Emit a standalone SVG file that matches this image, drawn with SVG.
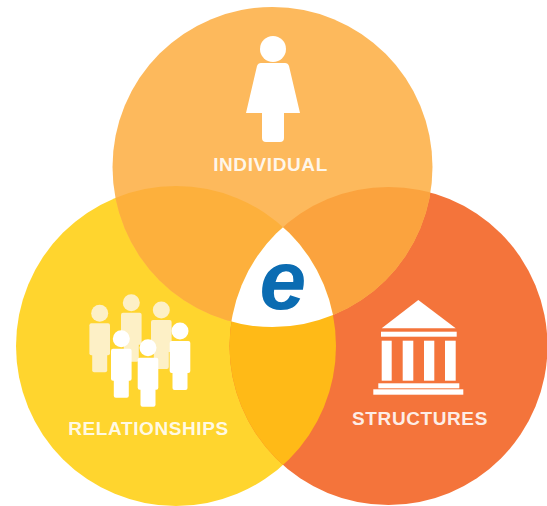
<svg xmlns="http://www.w3.org/2000/svg" xmlns:xlink="http://www.w3.org/1999/xlink" width="547" height="506" viewBox="0 0 547 506">
<style>
.lab{font-family:"Liberation Sans",Arial,sans-serif;font-weight:700;font-size:19px;letter-spacing:.6px;fill:#fff;fill-opacity:.88;text-anchor:middle}
.w{fill:#fff}
.c{fill:#fdf0c6}
</style>
<defs>
<clipPath id="cT"><circle cx="272.500" cy="167" r="160"/></clipPath>
<clipPath id="cL"><circle cx="176" cy="346" r="160"/></clipPath>
<clipPath id="cR"><circle cx="388.500" cy="346" r="159"/></clipPath>
<g id="person">
<circle cx="0" cy="0" r="8.500"/>
<rect x="-10.300" y="10" width="20.600" height="32" rx="2"/>
<rect x="-7.500" y="38" width="15" height="21" rx="2"/>
</g>
</defs>
<rect width="547" height="506" fill="#fff"/>
<g id="circles">
<circle cx="176" cy="346" r="160" fill="#ffd52e"/>
<circle cx="388.500" cy="346" r="159" fill="#f4743b"/>
<circle cx="272.500" cy="167" r="160" fill="#fdb95c"/>
<g clip-path="url(#cT)"><circle cx="176" cy="346" r="160" fill="#fdb03c"/><circle cx="388.500" cy="346" r="159" fill="#fba33e"/></g>
<g clip-path="url(#cL)"><circle cx="388.500" cy="346" r="159" fill="#ffba17"/></g>
<g clip-path="url(#cT)"><g clip-path="url(#cL)"><circle cx="388.500" cy="346" r="159" fill="#fff"/></g></g>
</g>
<g id="center">
<text x="259.500" y="309" font-family="'Liberation Sans',Arial,sans-serif" font-weight="700" font-style="italic" font-size="84" fill="#0b6cb2">e</text>
</g>
<g id="individual">
<circle class="w" cx="273" cy="49" r="13"/>
<path class="w" d="M261 63H285Q288 63 289 66L300 113H284V138Q284 142 280 142H266Q262 142 262 138V113H246L257 66Q258 63 261 63Z"/>
<text class="lab" x="270.500" y="171">INDIVIDUAL</text>
</g>
<g id="relationships">
<use xlink:href="#person" href="#person" class="c" x="99.700" y="313.300"/>
<use xlink:href="#person" href="#person" class="c" x="131.300" y="302.700"/>
<use xlink:href="#person" href="#person" class="c" x="161.300" y="310"/>
<use xlink:href="#person" href="#person" class="w" x="121.300" y="338.700"/>
<use xlink:href="#person" href="#person" class="w" x="148" y="347.700"/>
<use xlink:href="#person" href="#person" class="w" x="180" y="331"/>
<text class="lab" x="148.500" y="435">RELATIONSHIPS</text>
</g>
<g id="structures">
<path class="w" d="M418.300 300L455.700 328.300H381.700Z"/>
<rect class="w" x="381" y="331.700" width="75.700" height="5"/>
<rect class="w" x="381.700" y="340.700" width="10" height="40"/>
<rect class="w" x="402.700" y="340.700" width="10.600" height="40"/>
<rect class="w" x="424" y="340.700" width="10.300" height="40"/>
<rect class="w" x="445" y="340.700" width="10.700" height="40"/>
<rect class="w" x="378.300" y="383.300" width="81" height="5"/>
<rect class="w" x="373.300" y="389.300" width="90" height="5.400"/>
<text class="lab" x="420" y="425">STRUCTURES</text>
</g>
</svg>
